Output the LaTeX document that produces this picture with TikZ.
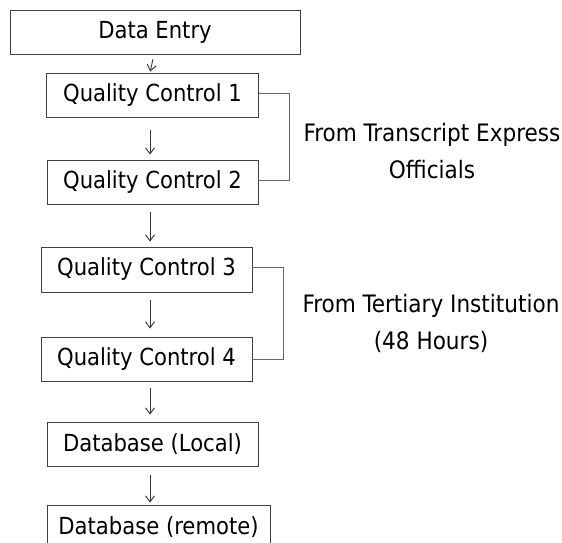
\documentclass[tikz,border=0pt]{standalone}
\usepackage{fontspec}
\setmainfont{DejaVu Sans Condensed}
\usetikzlibrary{arrows.meta,calc}
\begin{document}
\begin{tikzpicture}[x=1pt,y=-1pt,
  box/.style={draw=black!75,line width=0.9pt,rectangle,inner sep=0pt,
    font=\fontsize{23.5}{28}\selectfont,anchor=center},
  arr/.style={draw=black!80,line width=0.9pt,-{Straight Barb[length=6pt,width=9pt]}},
  brk/.style={draw=black!60,line width=0.9pt},
  note/.style={align=center,font=\fontsize{24}{37}\selectfont,anchor=center}]
\useasboundingbox (0,0) rectangle (562,543);
\node[box,minimum width=290pt,minimum height=44pt] (de)  at (155,32)    {Data Entry};
\node[box,minimum width=212pt,minimum height=44pt] (qc1) at (152.5,95)  {Quality Control 1};
\node[box,minimum width=211pt,minimum height=44pt] (qc2) at (152.5,182) {Quality Control 2};
\node[box,minimum width=211pt,minimum height=45pt] (qc3) at (146.5,269.5) {Quality Control 3};
\node[box,minimum width=211pt,minimum height=44pt] (qc4) at (146.5,359) {Quality Control 4};
\node[box,minimum width=211pt,minimum height=44pt] (dbl) at (152.5,444) {Database (Local)};
\node[box,minimum width=223pt,minimum height=44pt] (dbr) at (158.5,527) {Database (remote)};
\coordinate (ax) at (150,0);
\coordinate (ax2) at (154,0);
\draw[arr,shorten <=5pt,shorten >=1pt] (de.south -| ax2) -- (qc1.north -| ax);
\draw[arr,shorten <=13pt,shorten >=5pt] (qc1.south -| ax) -- (qc2.north -| ax);
\draw[arr,shorten <=8pt,shorten >=5pt] (qc2.south -| ax) -- (qc3.north -| ax);
\draw[arr,shorten <=8pt,shorten >=8pt] (qc3.south -| ax) -- (qc4.north -| ax);
\draw[arr,shorten <=7pt,shorten >=7pt] (qc4.south -| ax) -- (dbl.north -| ax);
\draw[arr,shorten <=9pt,shorten >=2pt] (dbl.south -| ax) -- (dbr.north -| ax);
\draw[brk] ([yshift=2pt]qc1.east) -- ++(30,0) |- ([yshift=2pt]qc2.east);
\draw[brk] ([yshift=2pt]qc3.east) -- ++(31,0) |- (qc4.east);
\node[note] (n1) at (432,151) {From Transcript Express\\Officials};
\node[note] (n2) at (431,323) {From Tertiary Institution\\(48 Hours)};
\end{tikzpicture}
\end{document}
